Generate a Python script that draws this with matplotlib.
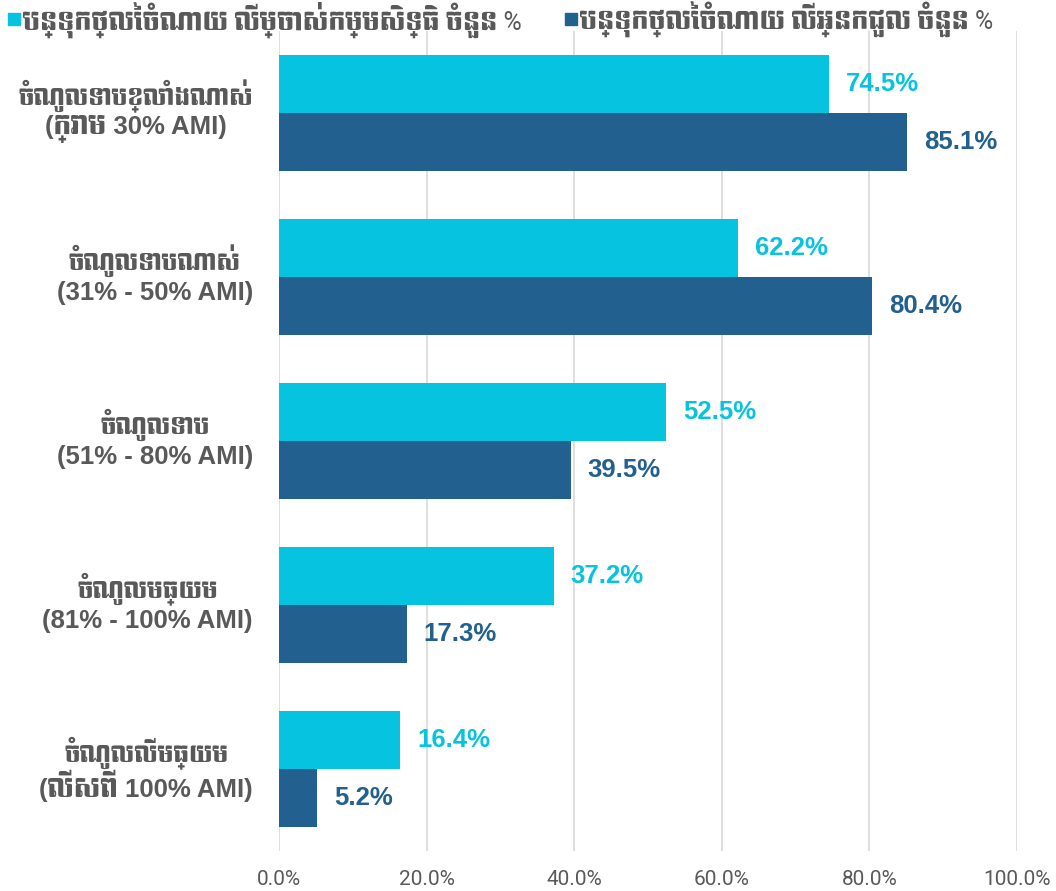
import matplotlib
matplotlib.use("Agg")
import matplotlib.pyplot as plt
from matplotlib import font_manager
from matplotlib.patches import Rectangle
from matplotlib.transforms import blended_transform_factory, IdentityTransform

# find installed fonts that have Khmer glyphs; prefer proportional ones
khmer_fonts = []
try:
    from fontTools.ttLib import TTFont
    for f in font_manager.fontManager.ttflist:
        if not f.fname.lower().endswith((".ttf", ".otf")):
            continue
        try:
            cmap = TTFont(f.fname, lazy=True).getBestCmap()
        except Exception:
            continue
        if cmap and 0x1785 in cmap and f.name not in khmer_fonts:
            khmer_fonts.append(f.name)
except Exception:
    pass
khmer_fonts.sort(key=lambda n: ("mono" in n.lower(), n))
khmer = khmer_fonts[:1]

names = {f.name for f in font_manager.fontManager.ttflist}
narrow = "Liberation Sans Narrow" if "Liberation Sans Narrow" in names else "Roboto"
bold_fam = ["Liberation Sans"] + khmer + ["DejaVu Sans"]

plt.rcParams["font.family"] = ["Roboto"] + khmer + ["DejaVu Sans"]

# data
cat_khmer = ["ចំណូលទាបខ្លាំងណាស់", "ចំណូលទាបណាស់", "ចំណូលទាប",
             "ចំណូលមធ្យម", "ចំណូលលើមធ្យម"]
cat_range = ["(ក្រោម 30% AMI)", "(31% - 50% AMI)", "(51% - 80% AMI)",
             "(81% - 100% AMI)", "(លើសពី 100% AMI)"]
owners = [74.5, 62.2, 52.5, 37.2, 16.4]
renters = [85.1, 80.4, 39.5, 17.3, 5.2]
series_names = ["បន្ទុកថ្លៃចំណាយ លើម្ចាស់កម្មសិទ្ធិ ចំនួន %",
                "បន្ទុកថ្លៃចំណាយ លើអ្នកជួល ចំនួន %"]
xticks = [0, 20, 40, 60, 80, 100]

light = "#06C3DF"
dark = "#22608F"
grey = "#595959"

fig = plt.figure(figsize=(10.56, 8.91), dpi=100)
ax = fig.add_axes([0.2642, 0.0449, 0.6989, 0.9203])

h = 0.354
pos = list(range(len(cat_khmer)))
ax.barh([p - h / 2 for p in pos], owners, height=h, color=light, zorder=3)
ax.barh([p + h / 2 for p in pos], renters, height=h, color=dark, zorder=3)

for p, v in zip(pos, owners):
    ax.text(v + 2.3, p - h / 2, f"{v:.1f}%", color=light, fontsize=18.5,
            fontweight="bold", va="center", ha="left", family=bold_fam)
for p, v in zip(pos, renters):
    ax.text(v + 2.3, p + h / 2, f"{v:.1f}%", color=dark, fontsize=18.5,
            fontweight="bold", va="center", ha="left", family=bold_fam)

ax.set_xlim(0, 100)
ax.set_ylim(4.5, -0.5)
ax.set_xticks(xticks)
ax.set_xticklabels([f"{t:.1f}%" for t in xticks], color=grey, fontsize=15,
                   family=[narrow] + ["DejaVu Sans"])
ax.set_yticks([])
ax.tick_params(axis="both", length=0)
ax.tick_params(axis="x", pad=14)
ax.grid(axis="x", color="#D9D9D9", linewidth=1.2, zorder=0)
for s in ax.spines.values():
    s.set_visible(False)

# category labels: two lines, centred on each other, block right-aligned
pix_y = blended_transform_factory(IdentityTransform(), ax.transData)
pairs = []
for p, k, r in zip(pos, cat_khmer, cat_range):
    t1 = ax.text(0, p - 0.1, k, transform=pix_y, fontsize=16.5, fontweight="bold",
                 color=grey, ha="center", va="center", family=bold_fam)
    t2 = ax.text(0, p + 0.1, r, transform=pix_y, fontsize=18.5, fontweight="bold",
                 color=grey, ha="center", va="center", family=bold_fam)
    pairs.append((p, t1, t2))
renderer = fig.canvas.get_renderer()
right_px = 253
for p, t1, t2 in pairs:
    w = max(t1.get_window_extent(renderer).width, t2.get_window_extent(renderer).width)
    cx = right_px - w / 2
    t1.set_x(cx)
    t2.set_x(cx)

# legend at the top
for x0, col, name in [(0.008, light, series_names[0]), (0.535, dark, series_names[1])]:
    fig.patches.append(Rectangle((x0, 0.9715), 0.011, 0.0135, color=col,
                                 transform=fig.transFigure, figure=fig))
    fig.text(x0 + 0.014, 0.978, name, color=grey, fontsize=18, va="center", ha="left")

fig.savefig("out.png", dpi=100)
